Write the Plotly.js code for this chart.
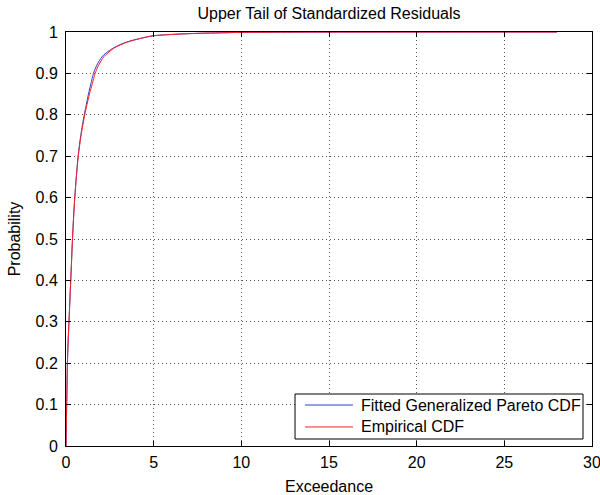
<!DOCTYPE html>
<html>
<head>
<meta charset="utf-8">
<script src="https://cdn.plot.ly/plotly-3.0.1.min.js"></script>
<style>
  html, body { margin: 0; padding: 0; background: #fff; }
  #chart { width: 600px; height: 495px; }
</style>
</head>
<body>
<div id="chart"></div>
<script>
// Fitted generalized Pareto CDF of the upper-tail exceedances
const fittedX = [0, 0.02, 0.04, 0.06, 0.08, 0.12, 0.17, 0.22, 0.27, 0.32, 0.37, 0.43, 0.5, 0.59, 0.69,
                 0.84, 1.04, 1.16, 1.28, 1.42, 1.57, 1.76, 2.05, 2.3, 2.65, 2.95, 3.35, 3.8, 4.2, 4.6,
                 5.0, 6.0, 7.0, 7.7, 8.8, 10, 12, 15, 20, 28];
const fittedY = [0, 0.05, 0.1, 0.15, 0.2, 0.25, 0.3, 0.35, 0.4, 0.45, 0.5, 0.55, 0.6, 0.65, 0.7,
                 0.75, 0.8, 0.825, 0.85, 0.875, 0.9, 0.92, 0.94, 0.95, 0.96, 0.967, 0.974, 0.98, 0.984, 0.988,
                 0.991, 0.994, 0.996, 0.997, 0.998, 0.999, 0.9995, 0.9998, 0.9999, 1.0];

// Empirical CDF of the same exceedances
const empiricalX = [0, 0.02, 0.04, 0.06, 0.08, 0.12, 0.17, 0.22, 0.27, 0.32, 0.37, 0.43, 0.5, 0.59, 0.70,
                    0.86, 1.07, 1.2, 1.34, 1.5, 1.66, 1.86, 2.15, 2.4, 2.7, 3.0, 3.4, 3.85, 4.2, 4.6,
                    5.0, 6.0, 7.0, 7.7, 8.8, 10, 12, 15, 20, 28];
const empiricalY = [0, 0.05, 0.1, 0.15, 0.2, 0.25, 0.3, 0.35, 0.4, 0.45, 0.5, 0.55, 0.6, 0.65, 0.7,
                    0.75, 0.8, 0.825, 0.85, 0.875, 0.9, 0.92, 0.94, 0.95, 0.96, 0.967, 0.974, 0.98, 0.984, 0.988,
                    0.991, 0.994, 0.996, 0.997, 0.998, 0.999, 0.9995, 0.9998, 0.9999, 1.0];

const xTicks = [0, 5, 10, 15, 20, 25, 30];
const yTicks = [0, 0.1, 0.2, 0.3, 0.4, 0.5, 0.6, 0.7, 0.8, 0.9, 1];
const yTickText = ['0', '0.1', '0.2', '0.3', '0.4', '0.5', '0.6', '0.7', '0.8', '0.9', '1'];

const seriesNames = ['Fitted Generalized Pareto CDF', 'Empirical CDF'];
const seriesColors = ['#2b3fd6', '#ff2020'];

const FONT = 'Liberation Sans, Arial, Helvetica, sans-serif';
const FS = 16;

const traces = [
  {
    x: fittedX, y: fittedY, type: 'scatter', mode: 'lines',
    name: seriesNames[0], line: { color: seriesColors[0], width: 1, shape: 'spline', smoothing: 0.8 }
  },
  {
    x: empiricalX, y: empiricalY, type: 'scatter', mode: 'lines',
    name: seriesNames[1], line: { color: seriesColors[1], width: 1, shape: 'spline', smoothing: 0.8 }
  }
];

const axisCommon = {
  showline: true, linecolor: '#000', linewidth: 1, mirror: 'ticks',
  ticks: 'inside', ticklen: 5, tickcolor: '#000', tickwidth: 1,
  showgrid: true, gridcolor: '#555', gridwidth: 1, griddash: '1px,3px',
  zeroline: false, ticklabeloverflow: 'allow',
  tickfont: { family: FONT, size: FS, color: '#000' }
};

// Boxed legend in the lower right corner of the axes (paper coordinates)
const legendBox = { x0: 0.4354, x1: 0.9829, y0: 0.0169, y1: 0.1256 };
const legendRowsY = [0.099, 0.0459];
const legendLine = { x0: 0.4544, x1: 0.5456 };
const legendTextX = 0.557;

const shapes = [
  {
    type: 'rect', xref: 'paper', yref: 'paper',
    x0: legendBox.x0, x1: legendBox.x1, y0: legendBox.y0, y1: legendBox.y1,
    line: { color: '#000', width: 1 }, fillcolor: '#fff', layer: 'above'
  }
];
const annotations = [];
seriesNames.forEach((name, i) => {
  shapes.push({
    type: 'line', xref: 'paper', yref: 'paper',
    x0: legendLine.x0, x1: legendLine.x1, y0: legendRowsY[i], y1: legendRowsY[i],
    line: { color: seriesColors[i], width: 1 }, layer: 'above'
  });
  annotations.push({
    xref: 'paper', yref: 'paper', x: legendTextX, y: legendRowsY[i],
    xanchor: 'left', yanchor: 'middle', showarrow: false,
    text: name, font: { family: FONT, size: FS, color: '#000' }
  });
});

const layout = {
  width: 600, height: 495,
  margin: { l: 66, r: 8, t: 32, b: 49 },
  paper_bgcolor: '#fff', plot_bgcolor: '#fff',
  showlegend: false,
  title: {
    text: 'Upper Tail of Standardized Residuals',
    font: { family: FONT, size: FS, color: '#000' },
    xref: 'paper', x: 0.5, xanchor: 'center', y: 0.972, yanchor: 'middle'
  },
  xaxis: Object.assign({}, axisCommon, {
    range: [0, 30], tickvals: xTicks, ticktext: xTicks.map(String),
    ticklabelstandoff: 2,
    title: { text: 'Exceedance', font: { family: FONT, size: FS, color: '#000' }, standoff: 10 }
  }),
  yaxis: Object.assign({}, axisCommon, {
    range: [0, 1], tickvals: yTicks, ticktext: yTickText,
    ticklabelstandoff: 4,
    title: { text: 'Probability', font: { family: FONT, size: FS, color: '#000' }, standoff: 10 }
  }),
  shapes: shapes,
  annotations: annotations
};

Plotly.newPlot('chart', traces, layout, { displayModeBar: false, staticPlot: true });
</script>
</body>
</html>
